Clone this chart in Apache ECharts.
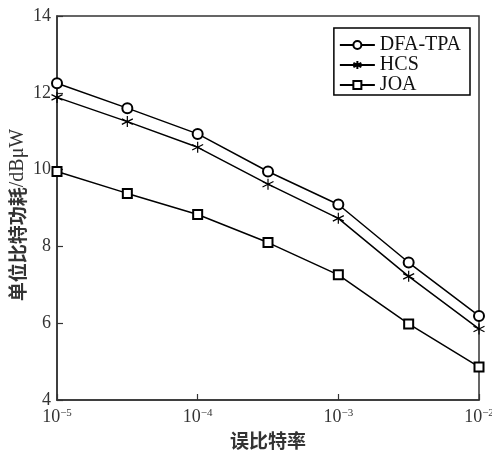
<!DOCTYPE html>
<html><head><meta charset="utf-8">
<script src="https://cdn.jsdelivr.net/npm/echarts@6/dist/echarts.min.js"></script>
<style>html,body{margin:0;padding:0;background:#fff}#c{width:492px;height:452px}</style>
</head><body><div id="c"></div>
<script>
const xValues = [1e-5, 3.1623e-5, 1e-4, 3.1623e-4, 1e-3, 3.1623e-3, 1e-2];
const dfaTpa = [12.25, 11.6, 10.93, 9.95, 9.09, 7.58, 6.19];
const hcs = [11.88, 11.25, 10.58, 9.62, 8.73, 7.22, 5.85];
const joa = [9.95, 9.38, 8.83, 8.1, 7.26, 5.98, 4.86];
const seriesNames = ['DFA-TPA', 'HCS', 'JOA'];
const yTicks = [4, 6, 8, 10, 12, 14];

const star = 'path://M0,-1L0,1M-0.87,-0.5L0.87,0.5M-0.87,0.5L0.87,-0.5';
const serif = '"Liberation Serif","Times New Roman",serif';
const cjk = '"Noto Sans CJK SC",sans-serif';

function mk(name, vals, symbol, size) {
  return {
    name, type: 'line', data: xValues.map((x, i) => [x, vals[i]]),
    symbol, symbolSize: size, showAllSymbol: true,
    lineStyle: { color: '#000', width: 1.5 },
    itemStyle: { color: symbol === star ? 'none' : '#000', borderColor: '#000', borderWidth: 1.2 },
    emphasis: { disabled: true }, animation: false
  };
}

const chart = echarts.init(document.getElementById('c'));
chart.setOption({
  animation: false,
  backgroundColor: '#fff',
  grid: { left: 57, right: 13, top: 16, bottom: 52, show: true, borderColor: '#333', borderWidth: 1.5,
    outerBoundsMode: 'none', containLabel: false },
  legend: {
    right: 22, top: 28, orient: 'vertical', itemWidth: 35, itemHeight: 10, itemGap: 0,
    backgroundColor: '#fff', borderColor: '#000', borderWidth: 1.5, padding: [7, 9, 0, 5],
    textStyle: { fontFamily: serif, fontSize: 20, lineHeight: 17, color: '#111' },
    data: seriesNames
  },
  xAxis: {
    type: 'log', logBase: 10, min: 1e-5, max: 1e-2,
    name: '误比特率', nameLocation: 'middle', nameGap: 31, nameMoveOverlap: false,
    nameTextStyle: { fontFamily: cjk, fontSize: 19, fontWeight: 'bold', color: '#333' },
    axisLine: { lineStyle: { color: '#333', width: 1.5 } },
    axisTick: { inside: true, length: 6, lineStyle: { color: '#333', width: 1.2 } },
    minorTick: { show: false },
    splitLine: { show: false },
    axisLabel: {
      margin: 8, color: '#000',
      formatter: v => '{b|10}{s|' + String(Math.round(Math.log10(v))).replace('-', '−') + '}',
      rich: {
        b: { fontFamily: serif, fontSize: 18, color: '#333' },
        s: { fontFamily: serif, fontSize: 11, color: '#333', verticalAlign: 'top', padding: [0, 0, 8, 0] }
      }
    }
  },
  yAxis: {
    type: 'value', min: 4, max: 14, interval: 2,
    name: '{c|单位比特功耗}{l|/dBμW}', nameLocation: 'middle', nameGap: 29, nameMoveOverlap: false,
    nameTextStyle: {
      rich: {
        c: { fontFamily: cjk, fontSize: 19, fontWeight: 'bold', color: '#333' },
        l: { fontFamily: serif, fontSize: 20, color: '#333', padding: [0, 14, 0, 0] }
      }
    },
    axisLine: { show: true, lineStyle: { color: '#333', width: 1.5 } },
    axisTick: { show: true, inside: true, length: 6, lineStyle: { color: '#333', width: 1.2 } },
    splitLine: { show: false },
    axisLabel: { fontFamily: serif, fontSize: 18, color: '#333', margin: 6,
      formatter: v => yTicks.includes(v) ? String(v) : '' }
  },
  series: [
    mk(seriesNames[0], dfaTpa, 'emptyCircle', 10),
    mk(seriesNames[1], hcs, star, 11),
    mk(seriesNames[2], joa, 'emptyRect', 9)
  ]
});
</script></body></html>
